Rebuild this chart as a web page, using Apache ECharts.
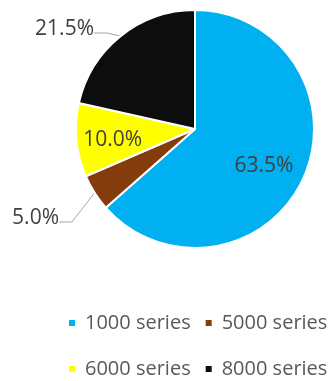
<!DOCTYPE html>
<html>
<head>
<meta charset="utf-8">
<script src="https://cdn.jsdelivr.net/npm/echarts@6/dist/echarts.min.js"></script>
<style>
  html, body { margin: 0; padding: 0; background: #ffffff; }
  #chart { width: 333px; height: 381px; }
</style>
</head>
<body>
<div id="chart"></div>
<script>
// Share of each product series (percent)
const categories = ['1000 series', '5000 series', '6000 series', '8000 series'];
const shares = [63.5, 5.0, 10.0, 21.5];
const colors = ['#00B0F0', '#843C0C', '#FFFF00', '#0D0D0D'];

// Which labels sit outside the pie with a leader line
const outsideLabel = [false, true, false, true];

const chart = echarts.init(document.getElementById('chart'), null, { renderer: 'canvas' });

const FONT = '"Open Sans", "Noto Sans", sans-serif';

const pct = v => v.toFixed(1) + '%';

const data = categories.map((name, i) => ({
  name: name,
  value: shares[i],
  itemStyle: { color: colors[i] },
  // outside labels carry an empty second line so the leader line meets them near the baseline
  label: outsideLabel[i]
    ? { position: 'outside', padding: [0, 4, 0, 0], formatter: p => '{v|' + pct(p.value) + '}\n{g|}' }
    : { position: 'inside' },
  labelLine: { show: outsideLabel[i] }
}));

const legendBase = {
  left: 67,
  orient: 'horizontal',
  padding: 0,
  icon: 'rect',
  itemWidth: 8,
  itemHeight: 8,
  itemGap: 13,
  textStyle: { fontFamily: FONT, fontSize: 20, color: '#595959', padding: [0, 0, 0, 4] }
};

chart.setOption({
  animation: false,
  color: colors,
  legend: [
    Object.assign({}, legendBase, { data: categories.slice(0, 2), top: 313 }),
    Object.assign({}, legendBase, { data: categories.slice(2, 4), top: 359 })
  ],
  series: [{
    type: 'pie',
    center: [195, 129],
    radius: [0, 119],
    startAngle: 90,
    clockwise: true,
    avoidLabelOverlap: false,
    data: data,
    itemStyle: { borderColor: '#ffffff', borderWidth: 2 },
    label: {
      show: true,
      formatter: p => pct(p.value),
      fontFamily: FONT,
      fontSize: 21,
      color: '#404040',
      rich: {
        v: { fontFamily: FONT, fontSize: 21, color: '#404040', lineHeight: 25 },
        g: { fontSize: 1, lineHeight: 6, height: 6 }
      }
    },
    labelLine: {
      show: true,
      length: 6,
      length2: 13,
      lineStyle: { color: '#A6A6A6', width: 1 }
    },
    labelLayout: function (params) {
      // nudge the in-slice labels and place the outside ones beside their leader lines
      switch (params.dataIndex) {
        case 0: return { dx: 12, dy: 11 };
        case 2: return { dx: -20, dy: 5 };
        case 1: return { x: 63, y: 221, align: 'right', verticalAlign: 'middle' };
        case 3: return { x: 98, y: 32, align: 'right', verticalAlign: 'middle' };
      }
      return {};
    }
  }]
});
</script>
</body>
</html>
